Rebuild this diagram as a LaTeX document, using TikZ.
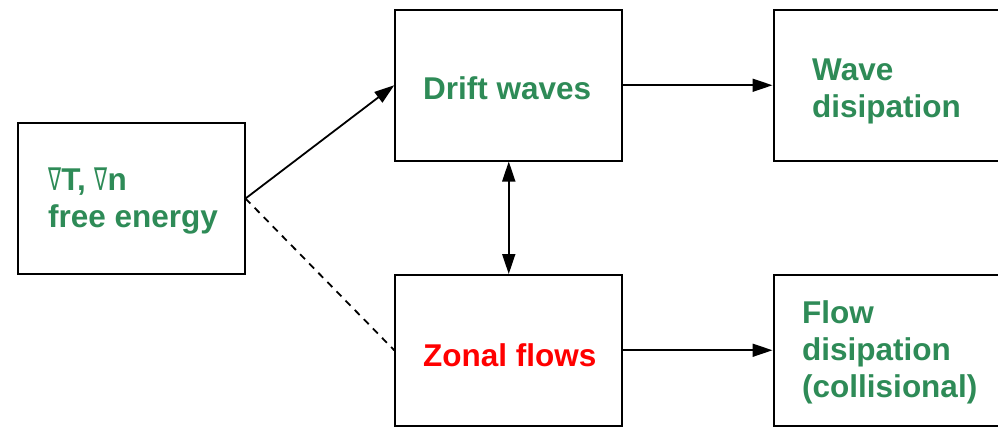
\documentclass[tikz,border=0pt]{standalone}
\usepackage{fontspec}
\usepackage{graphicx}
\setmainfont{Liberation Sans}
\newfontfamily\nablafont{DejaVu Sans}
\usetikzlibrary{arrows.meta}
\definecolor{txtgreen}{RGB}{46,139,87}
\newcommand{\mynabla}{{\nablafont\mdseries\scalebox{0.62}[1]{∇}}}
\begin{document}
\begin{tikzpicture}[x=1pt,y=-1pt,
  box/.style={draw=black, line width=2pt, rectangle, inner sep=0pt, minimum width=227pt, minimum height=150.5pt},
  lbl/.style={inner sep=0pt, anchor=base west, align=left, font=\bfseries\fontsize{31.5}{36.8}\selectfont, text=txtgreen},
  conn/.style={line width=1.8pt, -{Triangle[length=20pt,width=13pt]}},
  biconn/.style={line width=1.8pt, {Triangle[length=20pt,width=13pt]}-{Triangle[length=20pt,width=13pt]}},
  dconn/.style={line width=1.8pt, dash pattern=on 7pt off 6pt}]
\clip (0,0) rectangle (998,429);
\fill[white] (0,0) rectangle (998,429);
\node[box] (src) at (131,198.5) {};
\node[box] (drift) at (508.75,85.25) {};
\node[box] (wave) at (887,85.25) {};
\node[box] (zonal) at (508.75,350.25) {};
\node[box] (flow) at (887,350.25) {};
\node[lbl] (srct) at (48,227) {\mynabla T, \mynabla n\\free energy};
\node[lbl] (driftt) at (423,99) {Drift waves};
\node[lbl] (wavet) at (812,117) {Wave\\disipation};
\node[lbl, text=red] (zonalt) at (423,366) {Zonal flows};
\node[lbl] (flowt) at (802,397) {Flow\\disipation\\(collisional)};
\draw[conn] (src.east) -- (drift.west);
\draw[dconn] (src.east) -- (zonal.west);
\draw[conn] (drift.east) -- (wave.west);
\draw[conn] (zonal.east) -- (flow.west);
\draw[biconn] (drift.south) -- (zonal.north);
\end{tikzpicture}
\end{document}
